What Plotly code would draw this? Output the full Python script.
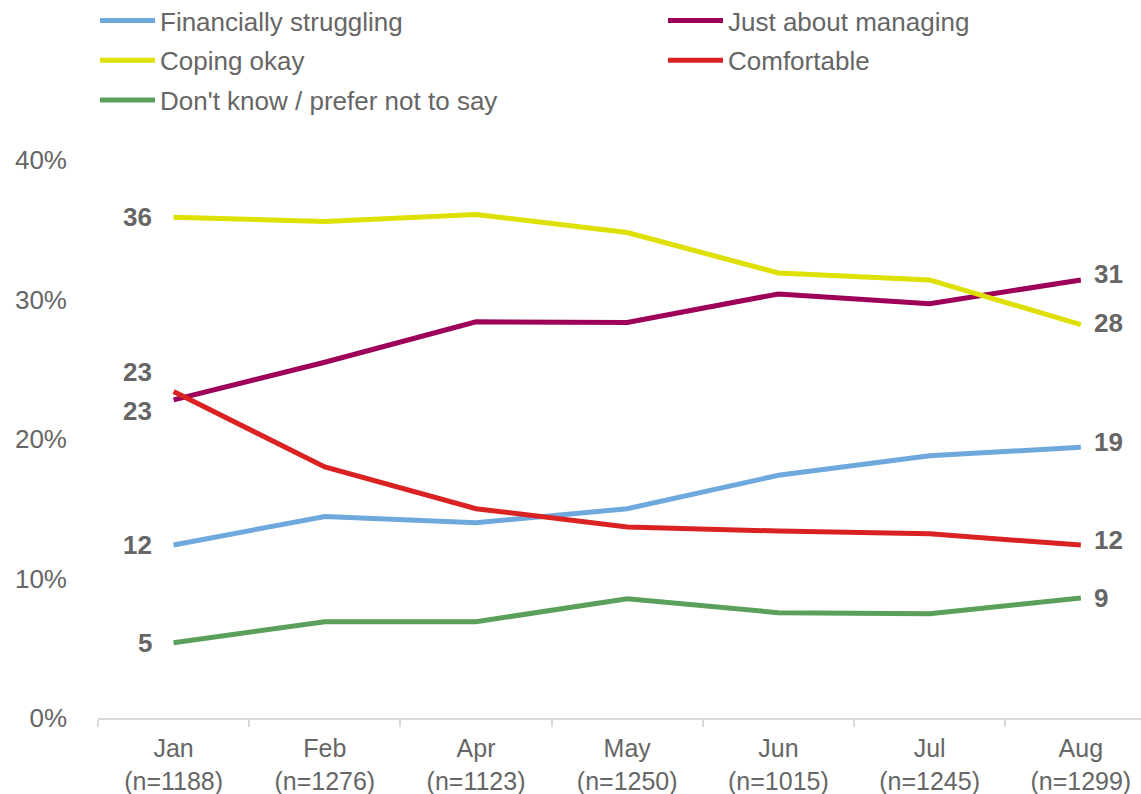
import plotly.graph_objects as go

# Survey waves (category axis) and sample sizes
months = ["Jan", "Feb", "Apr", "May", "Jun", "Jul", "Aug"]
sample_n = [1188, 1276, 1123, 1250, 1015, 1245, 1299]

# Share of respondents (%) in each financial situation
struggling = [12.4, 14.45, 14.0, 15.0, 17.4, 18.8, 19.4]
just_managing = [22.8, 25.5, 28.4, 28.35, 30.4, 29.7, 31.4]
coping_okay = [35.9, 35.6, 36.1, 34.8, 31.9, 31.4, 28.2]
comfortable = [23.4, 18.0, 15.0, 13.7, 13.4, 13.2, 12.4]
dont_know = [5.4, 6.9, 6.9, 8.55, 7.55, 7.47, 8.6]

tick_labels = [f"{m}<br>(n={n})" for m, n in zip(months, sample_n)]

FONT = "Liberation Sans, Arial, sans-serif"
GREY = "#666666"

series = [
    # name, values, colour, legend, (left label shift), (right label shift)
    ("Financially struggling", struggling, "#6FA8DC", "legend", 0, 5),
    ("Just about managing", just_managing, "#9E0059", "legend2", -11, 6),
    ("Coping okay", coping_okay, "#DDE000", "legend", 0, 2),
    ("Comfortable", comfortable, "#DA2222", "legend2", 20, 5),
    ("Don't know / prefer not to say", dont_know, "#5BA05A", "legend", 0, 0),
]

fig = go.Figure()
annotations = []
for name, vals, colour, leg, lshift, rshift in series:
    fig.add_trace(go.Scatter(
        x=months, y=vals, name=name, mode="lines",
        line=dict(color=colour, width=5),
        legend=leg, legendgroup=name,
    ))
    annotations.append(dict(
        x=months[0], y=vals[0], text=f"<b>{round(vals[0])}</b>",
        xanchor="right", yanchor="middle", xshift=-20, yshift=lshift,
        showarrow=False, font=dict(family=FONT, size=26, color=GREY),
    ))
    annotations.append(dict(
        x=months[-1], y=vals[-1], text=f"<b>{round(vals[-1])}</b>",
        xanchor="left", yanchor="middle", xshift=11, yshift=rshift,
        showarrow=False, font=dict(family=FONT, size=26, color=GREY),
    ))

# Legend top sits just above the figure edge (paper units: plot top = 1)
legend_top = 1 + (160 + 3) / (794 - 160 - 76)

legend_style = dict(
    orientation="v", xref="container", yref="paper",
    yanchor="top", xanchor="left",
    font=dict(family=FONT, size=26, color=GREY),
    bgcolor="rgba(0,0,0,0)", itemwidth=55, tracegroupgap=3,
)

fig.update_layout(
    width=1141, height=794,
    margin=dict(l=98, r=0, t=160, b=76, autoexpand=False),
    plot_bgcolor="white", paper_bgcolor="white",
    font=dict(family=FONT, size=26, color=GREY),
    showlegend=True,
    legend=dict(x=95 / 1141, y=legend_top, **legend_style),
    legend2=dict(x=663 / 1141, y=legend_top, **legend_style),
    xaxis=dict(
        type="category", categoryorder="array", categoryarray=months,
        tickvals=months, ticktext=tick_labels, tickangle=0,
        range=[-0.5, 6.398],
        showgrid=False, showline=True, linecolor="#D9D9D9", linewidth=2,
        ticks="outside", tickson="boundaries", ticklen=7, tickcolor="#D9D9D9",
        tickwidth=2, tickfont=dict(family=FONT, size=25, color=GREY),
        ticklabelstandoff=7,
        automargin=False,
    ),
    yaxis=dict(
        range=[0, 40], tickvals=[0, 10, 20, 30, 40],
        ticktext=["0%", "10%", "20%", "30%", "40%"],
        showgrid=False, zeroline=False, showline=False,
        ticklabelstandoff=30,
        tickfont=dict(family=FONT, size=26, color=GREY),
        automargin=False,
    ),
    annotations=annotations,
)

fig.write_html("out.html")
